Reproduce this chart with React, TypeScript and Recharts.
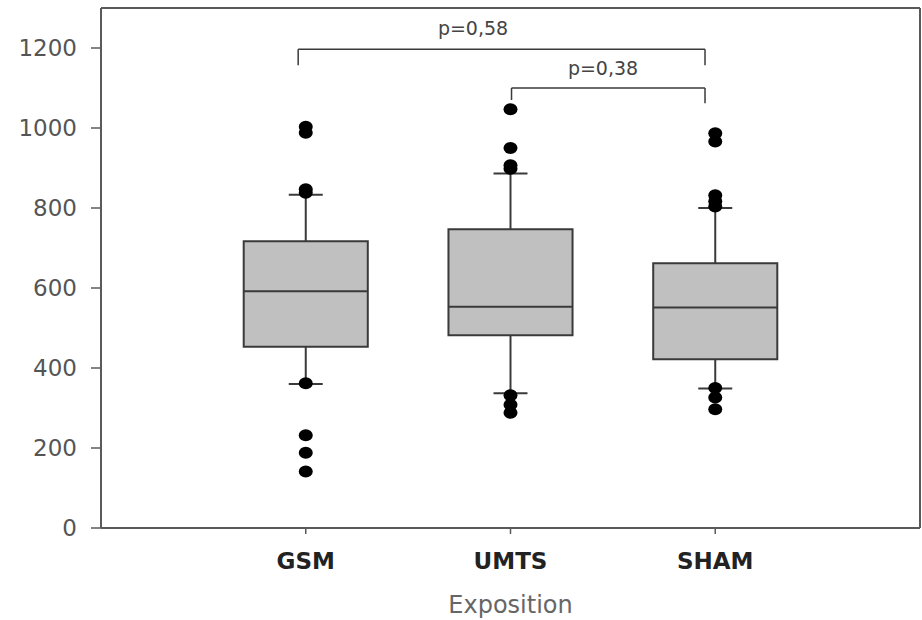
import React from 'react';
import {
  ComposedChart,
  XAxis,
  YAxis,
  Scatter,
  ReferenceArea,
  ReferenceLine,
  ReferenceDot,
  Label,
} from 'recharts';

// ---- data ----
const categories = ['GSM', 'UMTS', 'SHAM'];
const positions = [1, 2, 3];
const q1 = [453, 482, 422];
const median = [592, 553, 551];
const q3 = [717, 747, 662];
const whiskerLow = [360, 337, 349];
const whiskerHigh = [833, 886, 800];
const outliersGSM = [1003, 988, 847, 838, 362, 232, 188, 141];
const outliersUMTS = [1047, 950, 907, 898, 332, 308, 288];
const outliersSHAM = [987, 966, 832, 817, 804, 350, 326, 297];
const yTicks = [0, 200, 400, 600, 800, 1000, 1200];
const bracketLabels = ['p=0,58', 'p=0,38'];
const bracketLeft = [0.963, 2.005];
const bracketRight = [2.95, 2.95];
const bracketTop = [1197, 1100];
const bracketLeftBottom = [1157, 1070];
const bracketRightBottom = [1157, 1062];
const bracketLabelX = [1.817, 2.452];
const bracketLabelY = [1249, 1149];

const outlierPoints = [outliersGSM, outliersUMTS, outliersSHAM].flatMap((arr, i) =>
  arr.map((v) => ({ x: positions[i], y: v }))
);

// ---- style ----
const FONT = '"DejaVu Sans", sans-serif';
const BOX_HALF = 0.303;
const CAP_HALF = 0.083;
const AXIS = '#5a5a5a';
const LINE = '#3a3a3a';

const Dot = (p: any) => <ellipse cx={p.cx} cy={p.cy} rx={7} ry={6} fill="#000" />;

export default function App() {
  return (
    <div style={{ position: 'absolute', left: 0, top: 0, width: 922, height: 620, background: '#fff' }}>
      <ComposedChart width={922} height={620} margin={{ top: 8, right: 2, left: 0, bottom: 0 }}>
        <XAxis
          dataKey="x"
          type="number"
          domain={[0, 4]}
          ticks={positions}
          tickFormatter={(v: number) => categories[positions.indexOf(v)] ?? ''}
          height={92}
          axisLine={{ stroke: AXIS, strokeWidth: 2 }}
          tickLine={{ stroke: AXIS, strokeWidth: 1.5 }}
          tickSize={6}
          tickMargin={19}
          tick={{ fontFamily: FONT, fontWeight: 'bold', fontSize: 23, fill: '#222' }}
          allowDataOverflow
        >
          <Label
            value="Exposition"
            position="insideBottom"
            offset={7}
            style={{ fontFamily: FONT, fontSize: 24, fill: '#666' }}
          />
        </XAxis>
        <YAxis
          dataKey="y"
          type="number"
          domain={[0, 1300]}
          ticks={yTicks}
          width={101}
          axisLine={{ stroke: AXIS, strokeWidth: 2 }}
          tickLine={{ stroke: AXIS, strokeWidth: 1.5 }}
          tickSize={10}
          tickMargin={14}
          tick={{ fontFamily: FONT, fontSize: 23, fill: '#555' }}
          allowDataOverflow
        />
        <ReferenceLine y={1300} stroke={AXIS} strokeWidth={2} />
        <ReferenceLine x={4} stroke={AXIS} strokeWidth={2} />

        {positions.map((x, i) => (
          <ReferenceLine
            key={'wu' + i}
            segment={[{ x, y: q3[i] }, { x, y: whiskerHigh[i] }]}
            stroke={LINE}
            strokeWidth={2}
          />
        ))}
        {positions.map((x, i) => (
          <ReferenceLine
            key={'wl' + i}
            segment={[{ x, y: q1[i] }, { x, y: whiskerLow[i] }]}
            stroke={LINE}
            strokeWidth={2}
          />
        ))}
        {positions.map((x, i) => (
          <ReferenceLine
            key={'cu' + i}
            segment={[{ x: x - CAP_HALF, y: whiskerHigh[i] }, { x: x + CAP_HALF, y: whiskerHigh[i] }]}
            stroke={LINE}
            strokeWidth={2}
          />
        ))}
        {positions.map((x, i) => (
          <ReferenceLine
            key={'cl' + i}
            segment={[{ x: x - CAP_HALF, y: whiskerLow[i] }, { x: x + CAP_HALF, y: whiskerLow[i] }]}
            stroke={LINE}
            strokeWidth={2}
          />
        ))}
        {positions.map((x, i) => (
          <ReferenceArea
            key={'b' + i}
            x1={x - BOX_HALF}
            x2={x + BOX_HALF}
            y1={q1[i]}
            y2={q3[i]}
            fill="#c0c0c0"
            fillOpacity={1}
            stroke={LINE}
            strokeWidth={2}
          />
        ))}
        {positions.map((x, i) => (
          <ReferenceLine
            key={'m' + i}
            segment={[{ x: x - BOX_HALF, y: median[i] }, { x: x + BOX_HALF, y: median[i] }]}
            stroke={LINE}
            strokeWidth={2}
          />
        ))}

        {bracketLabels.map((lab, i) => (
          <ReferenceLine
            key={'bt' + i}
            segment={[{ x: bracketLeft[i], y: bracketTop[i] }, { x: bracketRight[i], y: bracketTop[i] }]}
            stroke={LINE}
            strokeWidth={1.5}
          />
        ))}
        {bracketLabels.map((lab, i) => (
          <ReferenceLine
            key={'bl' + i}
            segment={[{ x: bracketLeft[i], y: bracketTop[i] }, { x: bracketLeft[i], y: bracketLeftBottom[i] }]}
            stroke={LINE}
            strokeWidth={1.5}
          />
        ))}
        {bracketLabels.map((lab, i) => (
          <ReferenceLine
            key={'br' + i}
            segment={[{ x: bracketRight[i], y: bracketTop[i] }, { x: bracketRight[i], y: bracketRightBottom[i] }]}
            stroke={LINE}
            strokeWidth={1.5}
          />
        ))}
        {bracketLabels.map((lab, i) => (
          <ReferenceDot
            key={'bd' + i}
            x={bracketLabelX[i]}
            y={bracketLabelY[i]}
            r={0}
            fill="none"
            stroke="none"
            label={{ value: lab, position: 'center', fontFamily: FONT, fontSize: 19, fill: '#444' }}
          />
        ))}

        <Scatter data={outlierPoints} dataKey="y" shape={Dot} isAnimationActive={false} />
      </ComposedChart>
    </div>
  );
}
